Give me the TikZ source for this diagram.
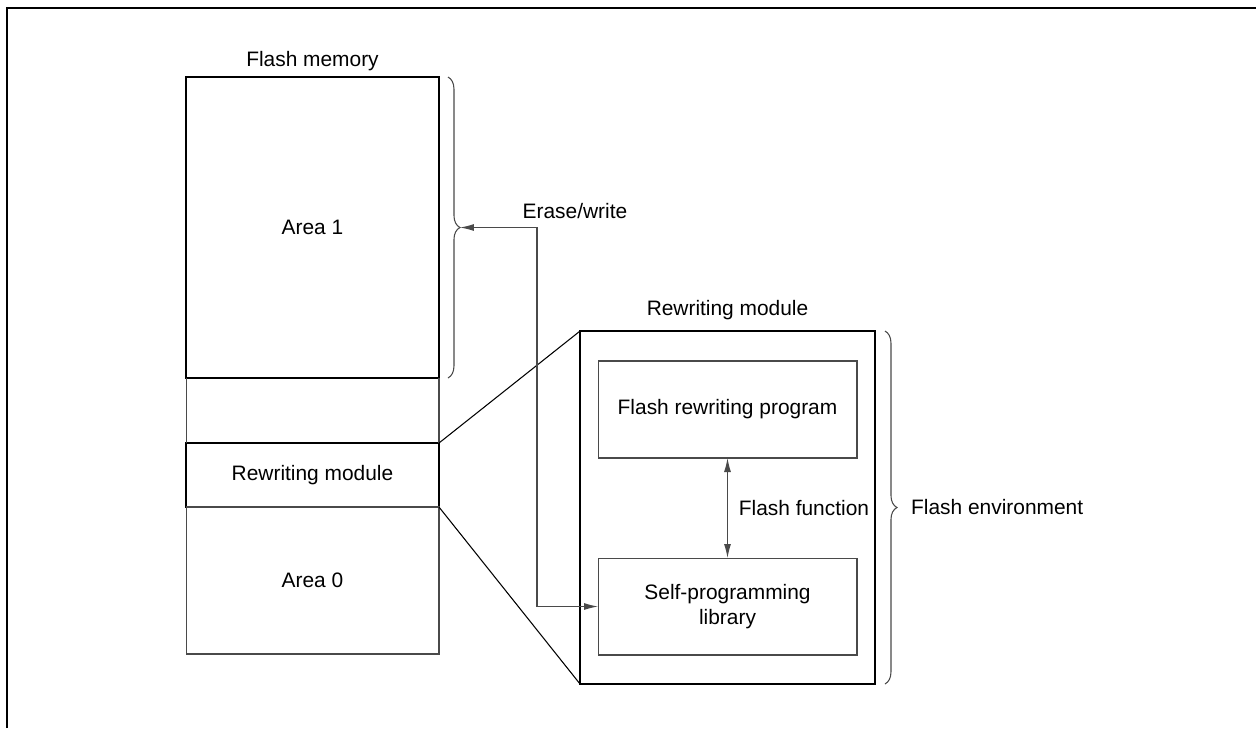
\documentclass[tikz,border=0pt]{standalone}
\usepackage{fontspec}
\setmainfont{Liberation Sans}
\usetikzlibrary{positioning,arrows.meta,calc,decorations.pathreplacing}
\definecolor{fmline}{HTML}{4A4A4A}

\begin{document}
\begin{tikzpicture}[
   x=0.02cm, y=-0.02cm,
   font=\fontsize{11.9}{14}\selectfont,
   thickbox/.style={draw, line width=1.6pt, inner sep=0pt, outer sep=0pt, align=center},
   thinbox/.style={draw=fmline, line width=0.6pt, inner sep=0pt, outer sep=0pt, align=center},
   conn/.style={draw=fmline, line width=0.6pt},
   curly/.style={draw=fmline, line width=0.6pt,
                 decorate, decoration={brace, amplitude=0.24cm}},
   >={Latex[length=2.8mm, width=1.4mm]}]
  \useasboundingbox (0,0) rectangle (1256,728);
  \draw[line width=1.6pt] (7,728) |- (1256,8);
  % Flash memory column
  \node[thickbox, minimum width=5.06cm, minimum height=6.02cm] (area1) at (312.5,227.5) {Area 1};
  \node[thickbox, minimum width=5.06cm, minimum height=1.28cm] (rwmod) at (312.5,475) {Rewriting module};
  \node[thinbox, minimum width=5.06cm, minimum height=2.94cm, below=0pt of rwmod] (area0) {Area 0};
  \node[above=0pt of area1] (flashmem) {Flash memory};
  \draw[conn] (area1.south west) -- (rwmod.north west);
  \draw[conn] (area1.south east) -- (rwmod.north east);
  % Rewriting module (enlarged)
  \node[thickbox, minimum width=5.9cm, minimum height=7.06cm] (module) at (727.5,507.5) {};
  \node[above=1mm of module] (modtitle) {Rewriting module};
  \node[thinbox, minimum width=5.18cm, minimum height=1.94cm] (prog) at (727.5,409.5) {Flash rewriting program};
  \node[thinbox, minimum width=5.18cm, minimum height=1.94cm] (lib) at (727.5,606.5) {Self-programming\\library};
  \draw[line width=0.6pt] (rwmod.north east) -- (module.north west);
  \draw[line width=0.6pt] (rwmod.south east) -- (module.south west);
  \draw[conn, <->] (prog.south) -- (lib.north)
     node[midway, right=1mm] (flashfn) {Flash function};
  % Braces
  \draw[curly] ($(area1.north east)+(9,0)$) -- ($(area1.south east)+(9,0)$);
  \coordinate (tip1) at ($(area1.east)+(21,0)$);
  \draw[curly] ($(module.north east)+(10,0)$) -- ($(module.south east)+(10,0)$);
  \node[anchor=west] (flashenv) at ($(module.east)+(30,0)$) {Flash environment};
  \draw[conn, <->] (tip1) -- ++(77,0) coordinate (bend) |- (lib.west);
  \node[anchor=south, yshift=0.5mm] (erase) at ($(bend)+(38,0)$) {Erase/write};
\end{tikzpicture}
\end{document}
